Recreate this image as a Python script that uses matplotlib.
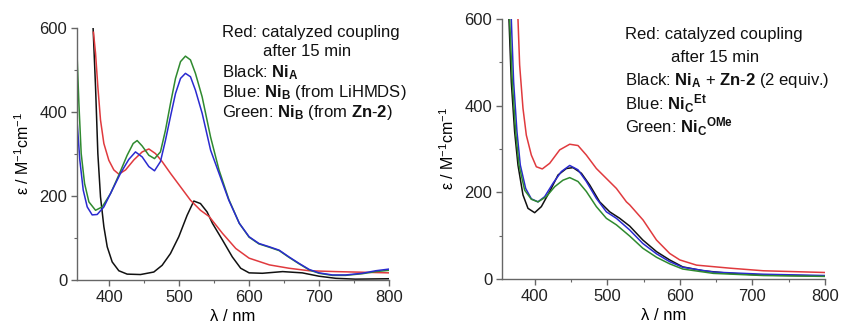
import matplotlib
matplotlib.use("Agg")
import matplotlib.pyplot as plt
from matplotlib.ticker import MultipleLocator

plt.rcParams['font.family'] = ['Liberation Sans', 'DejaVu Sans']
plt.rcParams['mathtext.fontset'] = 'custom'
plt.rcParams['mathtext.rm'] = 'Liberation Sans'
plt.rcParams['mathtext.bf'] = 'Liberation Sans:bold'
plt.rcParams['mathtext.it'] = 'Liberation Sans:italic'

# ---------------- Left panel data ----------------
L_black_x = [377, 380.5, 383.8, 387.6, 392.4, 397.2, 404.3, 413.8, 425.7, 444.8, 463.8, 475.7,
             487.6, 499.5, 511.4, 521, 530.5, 540, 547.6, 562, 576, 588, 600, 619, 648, 676,
             700, 724, 752, 800]
L_black_y = [600, 460, 301, 198, 127, 79, 43, 22, 14, 13, 19, 35,
             63, 103, 154, 188, 182, 162, 135, 95, 55, 28, 17, 16, 20, 17,
             9, 4, 2, 3]

L_red_x = [377.5, 380.5, 383.8, 387.6, 392.4, 399.5, 406.7, 413.8, 423.4, 435.3, 447.2, 456.7,
           466.2, 475.7, 487.6, 501.9, 516.2, 530.5, 543, 562, 581, 600, 629, 657, 686, 724, 800]
L_red_y = [590, 540, 460, 381, 325, 285, 262, 252, 262, 286, 305, 312,
           301, 282, 254, 222, 190, 166, 151, 111, 75, 52, 36, 28, 22, 20, 17]

L_blue_x = [354, 358, 362.9, 368.6, 375.7, 382.9, 392.4, 404.3, 416.2, 428, 437.6, 447.2, 456.7,
            464.8, 473.3, 480.5, 487.6, 494.8, 502, 509, 516.2, 523.3, 532.9, 545, 557, 571,
            586, 600, 614, 629, 643, 657, 671, 686, 700, 719, 738, 762, 781, 800]
L_blue_y = [381, 286, 214, 174, 155, 156, 174, 214, 254, 287, 305, 293, 270,
            260, 282, 333, 389, 444, 480, 492, 484, 452, 397, 309, 254, 190,
            135, 103, 87, 79, 71, 55, 40, 25, 17, 12, 12, 16, 22, 26]

L_green_x = [354, 356.7, 360, 364.8, 371, 380.5, 390, 402, 413.8, 425.7, 434.3, 440, 447.2,
             456.7, 464.8, 473.3, 480.5, 487.6, 494.8, 502, 509, 516.2, 523.3, 532.9, 545,
             557, 571, 586, 600, 614, 629, 643, 657, 671, 686, 700, 719, 738, 762, 781, 800]
L_green_y = [540, 420, 301, 230, 186, 166, 174, 206, 250, 297, 325, 332, 319,
             297, 289, 305, 357, 420, 480, 520, 533, 524, 492, 436, 340,
             262, 192, 135, 102, 86, 78, 70, 54, 39, 24, 16, 11, 11, 15, 20, 23]

# ---------------- Right panel data ----------------
R_red_x = [377, 379.3, 383.9, 388.5, 395.4, 402.3, 410.5, 420.7, 434.5, 448.3, 459.7, 471.2,
           485, 498.8, 512.6, 526.4, 531, 549.4, 567.8, 586, 600, 623, 669, 715, 800]
R_red_y = [600, 494, 394, 332, 286, 259, 254, 267, 298, 311, 308, 286,
           255, 232, 209, 178, 171, 136, 90, 59, 44, 32, 25, 19, 15]

R_black_x = [364.6, 367.8, 372.4, 377, 383.9, 390.8, 400, 409.2, 420.7, 432.2, 443.7, 452.9,
             464.4, 475.8, 489.6, 503.4, 517.2, 531, 549, 568, 586, 604, 632, 669, 715, 800]
R_black_y = [600, 455, 340, 263, 194, 163, 153, 167, 202, 240, 255, 257,
             244, 217, 178, 155, 140, 122, 90, 63, 44, 28, 19, 13, 9, 7]

R_blue_x = [367.8, 371, 375.6, 380.2, 387.6, 395.4, 404.6, 413.8, 425.3, 436.8, 448.3, 459.7,
            471.2, 485, 498.8, 512.6, 531, 549, 568, 586, 604, 646, 715, 800]
R_blue_y = [600, 455, 340, 263, 209, 185, 178, 190, 221, 248, 262, 252,
            225, 186, 155, 140, 113, 82, 58, 40, 27, 16, 11, 8]

R_green_x = [365.5, 369.2, 373.8, 378.4, 386.2, 395.4, 404.6, 416, 427.6, 439, 448.3, 459.7,
             471.2, 485, 498.8, 512.6, 531, 549, 568, 586, 604, 646, 715, 800]
R_green_y = [600, 455, 340, 263, 205, 184, 178, 190, 213, 228, 234, 225,
             202, 167, 140, 125, 99, 71, 50, 35, 23, 13, 8, 6]

x_ticks = [400, 500, 600, 700, 800]
y_ticks = [0, 200, 400, 600]

RED = '#e03a3e'
BLUE = '#2a2ad0'
GREEN = '#2f8a2f'
BLACK = '#111111'
AX_COLOR = '#666666'

fig = plt.figure(figsize=(8.46, 3.26), dpi=100)
W, H = 846, 326


def make_ax(l, r, b, t, x0):
    ax = fig.add_axes([l / W, 1 - b / H, (r - l) / W, (b - t) / H])
    ax.set_xlim(x0, 800)
    ax.set_ylim(0, 600)
    ax.set_xticks(x_ticks)
    ax.set_yticks(y_ticks)
    ax.xaxis.set_minor_locator(MultipleLocator(50))
    ax.yaxis.set_minor_locator(MultipleLocator(100))
    for s in ['top', 'right']:
        ax.spines[s].set_visible(False)
    for s in ['left', 'bottom']:
        ax.spines[s].set_color(AX_COLOR)
        ax.spines[s].set_linewidth(1.0)
    ax.tick_params(which='major', direction='out', length=4, width=1, color=AX_COLOR,
                   labelsize=12, labelcolor='#222222', pad=3)
    ax.tick_params(which='minor', direction='out', length=2.5, width=0.8, color=AX_COLOR)
    ax.set_xlabel('λ / nm', fontsize=12, labelpad=3)
    ax.set_ylabel(r'ε / M$^{-1}$cm$^{-1}$', fontsize=11.5, labelpad=5)
    return ax


lw = 1.1
ax1 = make_ax(77, 389, 280, 28, 354)
ax1.plot(L_black_x, L_black_y, color=BLACK, lw=lw)
ax1.plot(L_red_x, L_red_y, color=RED, lw=lw)
ax1.plot(L_green_x, L_green_y, color=GREEN, lw=lw)
ax1.plot(L_blue_x, L_blue_y, color=BLUE, lw=lw)

ax2 = make_ax(502, 825, 279, 19, 355)
ax2.plot(R_red_x, R_red_y, color=RED, lw=lw)
ax2.plot(R_black_x, R_black_y, color=BLACK, lw=lw)
ax2.plot(R_blue_x, R_blue_y, color=BLUE, lw=lw)
ax2.plot(R_green_x, R_green_y, color=GREEN, lw=lw)


def ftext(px, py, s, size=12):
    fig.text(px / W, 1 - py / H, s, fontsize=size, ha='left', va='center', color='#111111')


ftext(222, 32, 'Red: catalyzed coupling')
ftext(263, 52, 'after 15 min')
ftext(222, 73, r'Black: $\mathbf{Ni}_\mathbf{A}$')
ftext(222, 93, r'Blue: $\mathbf{Ni}_\mathbf{B}$ (from LiHMDS)')
ftext(222, 113, r'Green: $\mathbf{Ni}_\mathbf{B}$ (from $\mathbf{Zn}$' + '\u2010' + r'$\mathbf{2}$)')

ftext(625, 35, 'Red: catalyzed coupling')
ftext(671, 58, 'after 15 min')
ftext(625, 81, r'Black: $\mathbf{Ni}_\mathbf{A}$ + $\mathbf{Zn}$' + '\u2010' + r'$\mathbf{2}$ (2 equiv.)')
ftext(625, 104, r'Blue: $\mathbf{Ni}_\mathbf{C}{}^\mathbf{Et}$')
ftext(625, 127, r'Green: $\mathbf{Ni}_\mathbf{C}{}^\mathbf{OMe}$')

fig.savefig('out.png', dpi=100)
